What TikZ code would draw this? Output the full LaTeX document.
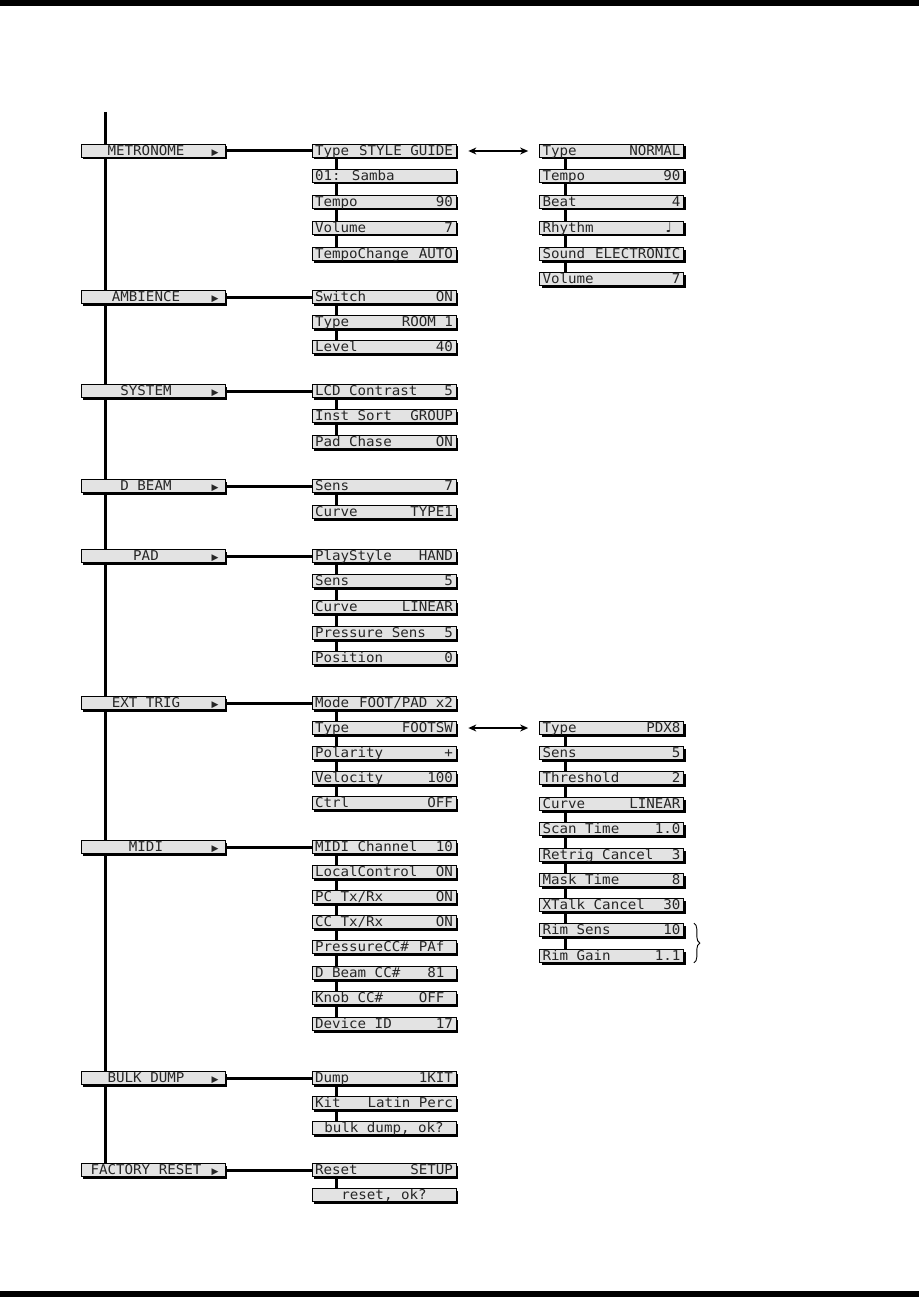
\documentclass[tikz,border=0pt]{standalone}
\usepackage{fontspec}
\usetikzlibrary{arrows.meta, shadows, backgrounds, decorations.pathreplacing}

\newfontfamily\lcdfont[FakeStretch=1.05]{DejaVu Sans Mono}
\newfontfamily\symfont{DejaVu Sans}
\definecolor{lcdgray}{HTML}{E3E3E3}

% one LCD line: name left, value right
\newcommand{\lcd}[2]{\makebox[138pt][l]{#1\hfill #2}}
\newcommand{\lcdmid}[1]{\makebox[138pt][c]{#1}}
\newcommand{\lcdgap}{\hspace{8.5pt}}
\newcommand{\menu}[1]{\makebox[124pt][c]{#1}\makebox[14pt]{\symfont\fontsize{9}{9}\selectfont ▶}}

\tikzset{
  lcdbox/.style={draw=black, line width=0.7pt, fill=lcdgray,
    minimum width=144pt, minimum height=13pt, inner sep=0pt,
    text height=10.5pt, text depth=1.5pt, text=black!85,
    font=\lcdfont\fontsize{13.5}{13.5}\selectfont,
    drop shadow={shadow xshift=2pt, shadow yshift=-2pt, fill=black, opacity=1}},
  conn/.style={line width=3pt},
  swap/.style={{Stealth[length=8pt,width=7pt]}-{Stealth[length=8pt,width=7pt]}, line width=1.2pt},
}

\begin{document}
\begin{tikzpicture}[x=1pt, y=-1pt]
\useasboundingbox (0,0) rectangle (919,1297);
\fill (0,0) rectangle (919,6);
\fill (0,1291) rectangle (919,1297);

\coordinate (spine) at (105,112);

% menu column
\node[lcdbox] (metro) at (153,151)  {\menu{METRONOME}};
\node[lcdbox] (amb)   at (153,297)  {\menu{AMBIENCE}};
\node[lcdbox] (sys)   at (153,391)  {\menu{SYSTEM}};
\node[lcdbox] (beam)  at (153,486)  {\menu{D BEAM}};
\node[lcdbox] (pad)   at (153,556)  {\menu{PAD}};
\node[lcdbox] (trig)  at (153,703)  {\menu{EXT TRIG}};
\node[lcdbox] (midi)  at (153,847)  {\menu{MIDI}};
\node[lcdbox] (bulk)  at (153,1078) {\menu{BULK DUMP}};
\node[lcdbox] (reset) at (153,1170) {\menu{FACTORY RESET}};

% parameters
\node[lcdbox] (metro1) at (384,151) {\lcd{Type}{STYLE GUIDE}};
\node[lcdbox] (metro2) at (384,176) {\lcd{01: Samba}{}};
\node[lcdbox] (metro3) at (384,202) {\lcd{Tempo}{90}};
\node[lcdbox] (metro4) at (384,228) {\lcd{Volume}{7}};
\node[lcdbox] (metro5) at (384,254) {\lcd{TempoChange}{AUTO}};

\node[lcdbox] (amb1) at (384,297) {\lcd{Switch}{ON}};
\node[lcdbox] (amb2) at (384,322) {\lcd{Type}{ROOM 1}};
\node[lcdbox] (amb3) at (384,347) {\lcd{Level}{40}};

\node[lcdbox] (sys1) at (384,391) {\lcd{LCD Contrast}{5}};
\node[lcdbox] (sys2) at (384,416) {\lcd{Inst Sort}{GROUP}};
\node[lcdbox] (sys3) at (384,442) {\lcd{Pad Chase}{ON}};

\node[lcdbox] (beam1) at (384,486) {\lcd{Sens}{7}};
\node[lcdbox] (beam2) at (384,512) {\lcd{Curve}{TYPE1}};

\node[lcdbox] (pad1) at (384,556) {\lcd{PlayStyle}{HAND}};
\node[lcdbox] (pad2) at (384,581) {\lcd{Sens}{5}};
\node[lcdbox] (pad3) at (384,607) {\lcd{Curve}{LINEAR}};
\node[lcdbox] (pad4) at (384,633) {\lcd{Pressure Sens}{5}};
\node[lcdbox] (pad5) at (384,658) {\lcd{Position}{0}};

\node[lcdbox] (trig1) at (384,703) {\lcd{Mode}{FOOT/PAD x2}};
\node[lcdbox] (trig2) at (384,728) {\lcd{Type}{FOOTSW}};
\node[lcdbox] (trig3) at (384,753) {\lcd{Polarity}{+}};
\node[lcdbox] (trig4) at (384,778) {\lcd{Velocity}{100}};
\node[lcdbox] (trig5) at (384,803) {\lcd{Ctrl}{OFF}};

\node[lcdbox] (midi1) at (384,847)  {\lcd{MIDI Channel}{10}};
\node[lcdbox] (midi2) at (384,872)  {\lcd{LocalControl}{ON}};
\node[lcdbox] (midi3) at (384,897)  {\lcd{PC Tx/Rx}{ON}};
\node[lcdbox] (midi4) at (384,922)  {\lcd{CC Tx/Rx}{ON}};
\node[lcdbox] (midi5) at (384,947)  {\lcd{PressureCC\#}{PAf\lcdgap}};
\node[lcdbox] (midi6) at (384,973)  {\lcd{D Beam CC\#}{81\lcdgap}};
\node[lcdbox] (midi7) at (384,998)  {\lcd{Knob CC\#}{OFF\lcdgap}};
\node[lcdbox] (midi8) at (384,1024) {\lcd{Device ID}{17}};

\node[lcdbox] (bulk1) at (384,1078) {\lcd{Dump}{1KIT}};
\node[lcdbox] (bulk2) at (384,1103) {\lcd{Kit}{Latin Perc}};
\node[lcdbox] (bulk3) at (384,1128) {\lcdmid{bulk dump, ok?}};

\node[lcdbox] (reset1) at (384,1170) {\lcd{Reset}{SETUP}};
\node[lcdbox] (reset2) at (384,1195) {\lcdmid{reset, ok?}};

% style guide off
\node[lcdbox] (click1) at (611.5,151) {\lcd{Type}{NORMAL}};
\node[lcdbox] (click2) at (611.5,176) {\lcd{Tempo}{90}};
\node[lcdbox] (click3) at (611.5,202) {\lcd{Beat}{4}};
\node[lcdbox] (click4) at (611.5,228) {\lcd{Rhythm}{{\symfont ♩}\lcdgap}};
\node[lcdbox] (click5) at (611.5,254) {\lcd{Sound}{ELECTRONIC}};
\node[lcdbox] (click6) at (611.5,279) {\lcd{Volume}{7}};

% pad type
\node[lcdbox] (pdx1)  at (611.5,728) {\lcd{Type}{PDX8}};
\node[lcdbox] (pdx2)  at (611.5,753) {\lcd{Sens}{5}};
\node[lcdbox] (pdx3)  at (611.5,778) {\lcd{Threshold}{2}};
\node[lcdbox] (pdx4)  at (611.5,804) {\lcd{Curve}{LINEAR}};
\node[lcdbox] (pdx5)  at (611.5,829) {\lcd{Scan Time}{1.0}};
\node[lcdbox] (pdx6)  at (611.5,855) {\lcd{Retrig Cancel}{3}};
\node[lcdbox] (pdx7)  at (611.5,880) {\lcd{Mask Time}{8}};
\node[lcdbox] (pdx8)  at (611.5,905) {\lcd{XTalk Cancel}{30}};
\node[lcdbox] (pdx9)  at (611.5,930) {\lcd{Rim Sens}{10}};
\node[lcdbox] (pdx10) at (611.5,956) {\lcd{Rim Gain}{1.1}};

\draw[swap] ([xshift=12pt]metro1.east) -- ([xshift=-11pt]click1.west);
\draw[swap] ([xshift=12pt]trig2.east) -- ([xshift=-11pt]pdx1.west);
\draw[decorate, decoration={brace, amplitude=6pt}, line width=0.9pt]
  ([xshift=10pt]pdx9.north east) -- ([xshift=10pt]pdx10.south east);

\begin{scope}[on background layer]
  \draw[conn] (spine) -- (reset.north -| spine);
  \foreach \m/\a/\z in {metro/metro1/metro5, amb/amb1/amb3, sys/sys1/sys3,
      beam/beam1/beam2, pad/pad1/pad5, trig/trig1/trig5, midi/midi1/midi8,
      bulk/bulk1/bulk3, reset/reset1/reset2} {
    \draw[conn] (\m.east) -- (\a.west);
    \draw[conn] ([xshift=25pt]\a.west) -- ([xshift=25pt]\z.west);
  }
  \draw[conn] ([xshift=26pt]click1.west) -- ([xshift=26pt]click6.west);
  \draw[conn] ([xshift=26pt]pdx1.west) -- ([xshift=26pt]pdx10.west);
\end{scope}
\end{tikzpicture}
\end{document}
